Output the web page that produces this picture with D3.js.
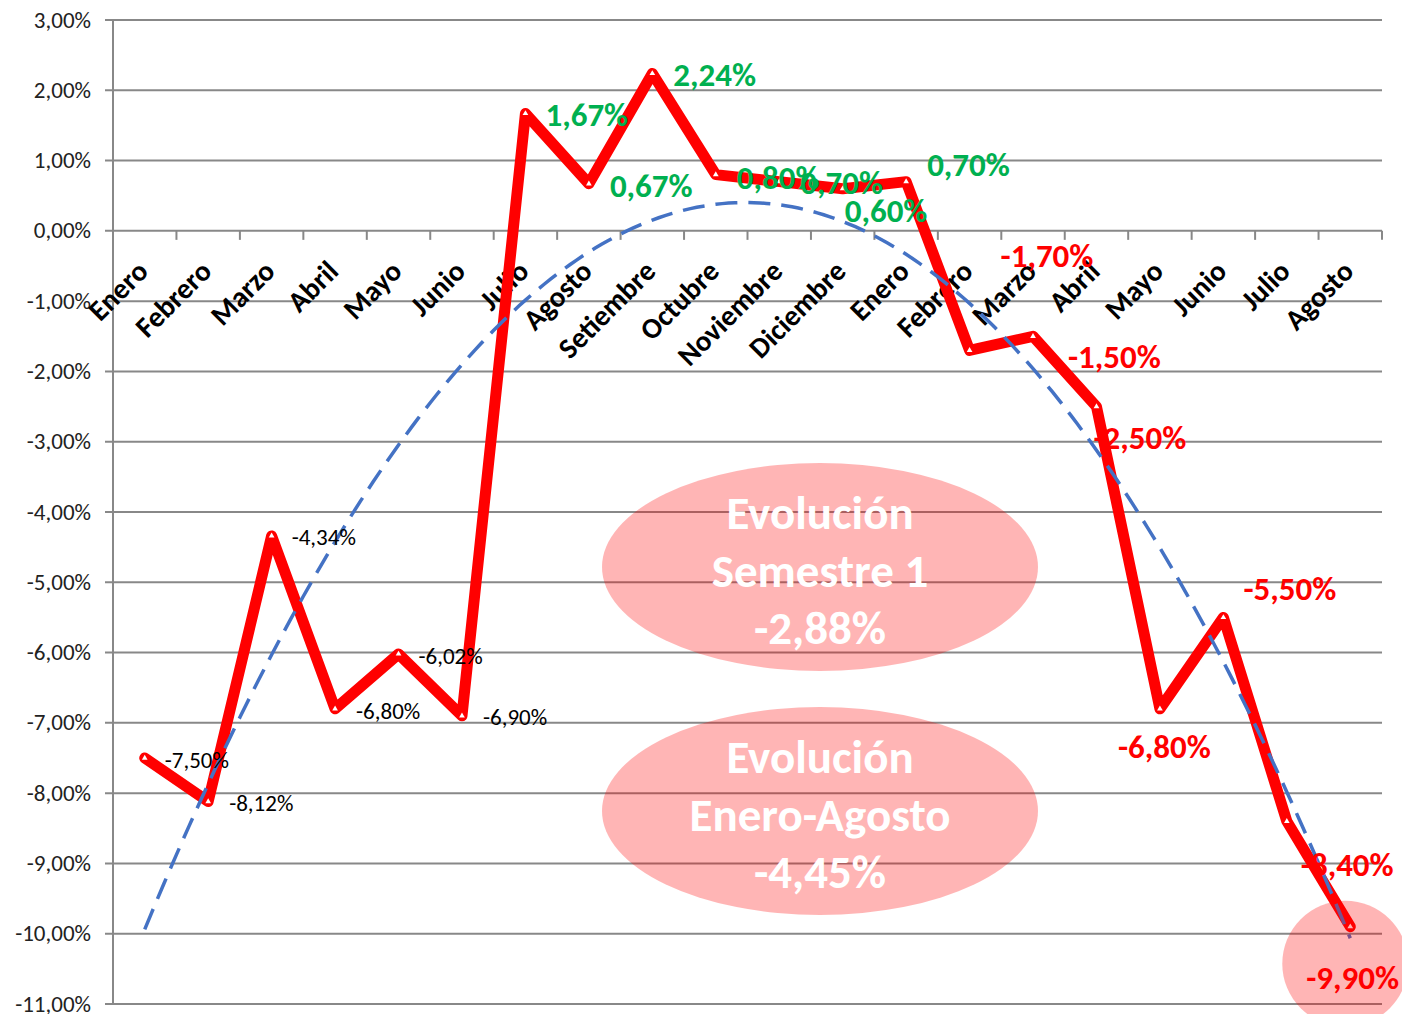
<!DOCTYPE html>
<meta charset="utf-8">
<style>

body { margin: 0; background: #fff; }

text { font-family: Carlito, Lato, sans-serif; }

.grid line {
  stroke: #888;
  stroke-width: 2px;
}

.ytick { font-size: 23px; fill: #222; }

.xlab { font-size: 29px; font-weight: bold; fill: #000; }

</style>
<svg width="1402" height="1014"></svg>
<script src="https://d3js.org/d3.v7.min.js"></script>
<script>

// Data
var months = ["Enero", "Febrero", "Marzo", "Abril", "Mayo", "Junio", "Julio", "Agosto",
              "Setiembre", "Octubre", "Noviembre", "Diciembre",
              "Enero", "Febrero", "Marzo", "Abril", "Mayo", "Junio", "Julio", "Agosto"];

var values = [-7.50, -8.12, -4.34, -6.80, -6.02, -6.90, 1.67, 0.67,
              2.24, 0.80, 0.70, 0.60,
              0.70, -1.70, -1.50, -2.50, -6.80, -5.50, -8.40, -9.90];

var yTicks = [3, 2, 1, 0, -1, -2, -3, -4, -5, -6, -7, -8, -9, -10, -11];

var resumenSemestre = ["Evolución", "Semestre 1", "-2,88%"];
var resumenEneroAgosto = ["Evolución", "Enero-Agosto", "-4,45%"];

// Initialize svg
var svg = d3.select("svg");

var plotLeft = 113, plotRight = 1382, plotTop = 20, plotBottom = 1004;

var x = d3.scaleBand().domain(d3.range(months.length)).range([plotLeft, plotRight]);
var y = d3.scaleLinear().domain([-11, 3]).range([plotBottom, plotTop]);

function cx(i) { return x(i) + x.bandwidth() / 2; }

// spanish style numbers: comma decimal, plain hyphen for minus
var es = d3.formatLocale({ decimal: ",", thousands: ".", grouping: [3], currency: ["", "€"], minus: "-" });
var fmt = es.format(".2f");
function pct(v) { return fmt(v) + "%"; }

// Gridlines + y labels
var grid = svg.append("g").attr("class", "grid");
grid.selectAll("line")
    .data(yTicks)
    .enter().append("line")
    .attr("x1", plotLeft - 8)
    .attr("x2", plotRight)
    .attr("y1", function(d) { return y(d); })
    .attr("y2", function(d) { return y(d); });

svg.append("g").selectAll("text")
    .data(yTicks)
    .enter().append("text")
    .attr("class", "ytick")
    .attr("x", 91)
    .attr("y", function(d) { return y(d); })
    .attr("dy", "0.33em")
    .attr("text-anchor", "end")
    .text(function(d) { return pct(d); });

// Vertical axis line
svg.append("line")
    .attr("x1", plotLeft).attr("x2", plotLeft)
    .attr("y1", plotTop).attr("y2", plotBottom)
    .attr("stroke", "#888").attr("stroke-width", 2);

// Category ticks on the 0 line
svg.append("g").selectAll("line")
    .data(d3.range(1, months.length + 1))
    .enter().append("line")
    .attr("x1", function(d) { return plotLeft + d * x.step(); })
    .attr("x2", function(d) { return plotLeft + d * x.step(); })
    .attr("y1", y(0))
    .attr("y2", y(0) + 9)
    .attr("stroke", "#888").attr("stroke-width", 2);

// Category labels, rotated
svg.append("g").selectAll("text")
    .data(months)
    .enter().append("text")
    .attr("class", "xlab")
    .attr("text-anchor", "end")
    .attr("transform", function(d, i) { return "translate(" + (cx(i) + 5) + ",273) rotate(-45)"; })
    .text(function(d) { return d; });

// Main line
var line = d3.line()
    .x(function(d, i) { return cx(i); })
    .y(function(d) { return y(d); });

svg.append("path")
    .datum(values)
    .attr("d", line)
    .attr("fill", "none")
    .attr("stroke", "#ff0000")
    .attr("stroke-width", 11)
    .attr("stroke-linejoin", "round")
    .attr("stroke-linecap", "round");

// tiny white markers
svg.append("g").selectAll("path")
    .data(values)
    .enter().append("path")
    .attr("d", d3.symbol().type(d3.symbolTriangle).size(14))
    .attr("transform", function(d, i) { return "translate(" + cx(i) + "," + y(d) + ")"; })
    .attr("fill", "#fff");

// Polynomial (order 2) trendline, least squares on x = 1..n
var n = values.length, S = [0, 0, 0, 0, 0], T = [0, 0, 0];
values.forEach(function(v, i) {
  var t = i + 1;
  for (var k = 0; k < 5; k++) S[k] += Math.pow(t, k);
  for (var k = 0; k < 3; k++) T[k] += v * Math.pow(t, k);
});
function solve3(A, b) {
  var M = A.map(function(r, i) { return r.concat([b[i]]); });
  for (var c = 0; c < 3; c++) {
    for (var r = c + 1; r < 3; r++) {
      var f = M[r][c] / M[c][c];
      for (var k = c; k < 4; k++) M[r][k] -= f * M[c][k];
    }
  }
  var out = [0, 0, 0];
  for (var r = 2; r >= 0; r--) {
    var s = M[r][3];
    for (var k = r + 1; k < 3; k++) s -= M[r][k] * out[k];
    out[r] = s / M[r][r];
  }
  return out;
}
var coef = solve3([[S[0], S[1], S[2]], [S[1], S[2], S[3]], [S[2], S[3], S[4]]], T);
var trend = d3.range(1, n + 0.001, 0.1).map(function(t) {
  return [plotLeft + (t - 0.5) * x.step(), y(coef[0] + coef[1] * t + coef[2] * t * t)];
});

svg.append("path")
    .datum(trend)
    .attr("d", d3.line())
    .attr("fill", "none")
    .attr("stroke", "#4472c4")
    .attr("stroke-width", 3.5)
    .attr("stroke-dasharray", "22,11");

// Summary ellipses
var bubbles = [
  { cx: 820, cy: 567, rx: 218, ry: 104, lines: resumenSemestre },
  { cx: 820, cy: 811, rx: 218, ry: 104, lines: resumenEneroAgosto }
];

bubbles.forEach(function(b) {
  svg.append("ellipse")
      .attr("cx", b.cx).attr("cy", b.cy)
      .attr("rx", b.rx).attr("ry", b.ry)
      .attr("fill", "#ff0000")
      .attr("fill-opacity", 0.29);
  svg.append("g").selectAll("text")
      .data(b.lines)
      .enter().append("text")
      .attr("x", b.cx)
      .attr("y", function(d, i) { return b.cy - 38 + i * 57.5; })
      .attr("text-anchor", "middle")
      .attr("font-size", 47)
      .attr("font-weight", "bold")
      .attr("fill", "#fff")
      .text(function(d) { return d; });
});

// circle around last value
svg.append("circle")
    .attr("cx", cx(n - 1) - 5)
    .attr("cy", y(values[n - 1]) + 37)
    .attr("r", 63)
    .attr("fill", "#ff0000")
    .attr("fill-opacity", 0.29);

// Data labels: [dx from point to label left, dy from point to label middle]
var labelOffsets = [
  [20, 2], [21, 2], [20, 2], [21, 3], [20, 2], [21, 2],
  [20, 2], [21, 2], [21, 2], [21, 3], [21, 1], [2, 22],
  [21, -17], [31, -94], [35, 21], [-3, 32], [-42, 38], [20, -28], [14, 44], [-44, 51]
];

svg.append("g").selectAll("text")
    .data(values)
    .enter().append("text")
    .attr("x", function(d, i) { return cx(i) + labelOffsets[i][0]; })
    .attr("y", function(d, i) { return y(d) + labelOffsets[i][1]; })
    .attr("dy", "0.33em")
    .attr("font-size", function(d, i) { return i < 6 ? 23 : 33; })
    .attr("font-weight", function(d, i) { return i < 6 ? "normal" : "bold"; })
    .attr("fill", function(d, i) { return i < 6 ? "#000" : (d >= 0 ? "#00b050" : "#ff0000"); })
    .text(function(d) { return pct(d); });

</script>
